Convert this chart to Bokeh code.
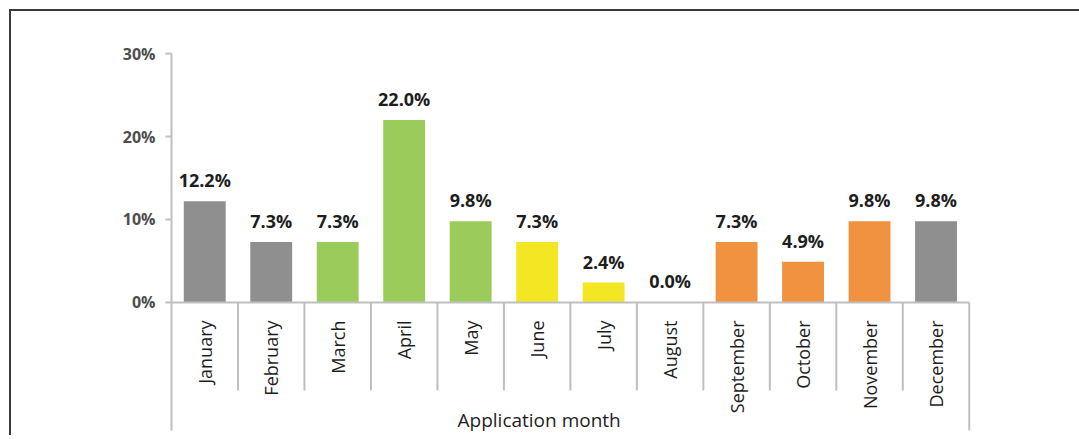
import math
from bokeh.plotting import figure
from bokeh.models import Range1d, FixedTicker, PrintfTickFormatter, ColumnDataSource, Label
from bokeh.core.properties import value
from bokeh.embed import file_html
from bokeh.resources import INLINE

months = ["January", "February", "March", "April", "May", "June", "July",
          "August", "September", "October", "November", "December"]
share = [12.2, 7.3, 7.3, 22.0, 9.8, 7.3, 2.4, 0.0, 7.3, 4.9, 9.8, 9.8]
y_ticks = [0, 10, 20, 30]
x_title = "Application month"

GRAY, GREEN, YELLOW, ORANGE = "#8f8f8f", "#9bcb5b", "#f3e622", "#f19240"
bar_colors = [GRAY, GRAY, GREEN, GREEN, GREEN, YELLOW, YELLOW, YELLOW,
              ORANGE, ORANGE, ORANGE, GRAY]

n = len(months)
xc = [i + 0.5 for i in range(n)]
src = ColumnDataSource(dict(
    x=xc, top=share, color=bar_colors, month=months,
    label=[f"{v:.1f}%" for v in share], zero=[0] * n,
))

FONT = "Open Sans"
AXIS_GRAY = "#bfbfbf"

p = figure(width=1071, height=426, output_backend="svg", toolbar_location=None,
           x_range=Range1d(0, n + 0.5), y_range=Range1d(-16.27, 32.05),
           min_border_left=160, min_border_right=80, min_border_top=25,
           min_border_bottom=0,
           styles={"margin-top": "9px", "margin-left": "9px",
                   "border-top": "2px solid #3a3a3a",
                   "border-left": "2px solid #3a3a3a"})
p.outline_line_color = None
p.xgrid.visible = False
p.ygrid.visible = False
p.xaxis.visible = False

ya = p.yaxis[0]
ya.ticker = FixedTicker(ticks=y_ticks)
ya.formatter = PrintfTickFormatter(format="%d%%")
ya.bounds = (-15.4, y_ticks[-1])
ya.axis_line_color = AXIS_GRAY
ya.axis_line_width = 2
ya.major_tick_line_color = AXIS_GRAY
ya.major_tick_line_width = 2
ya.major_tick_in = 0
ya.major_tick_out = 6
ya.minor_tick_line_color = None
ya.major_label_text_font = FONT
ya.major_label_text_font_size = "16px"
ya.major_label_text_font_style = "bold"
ya.major_label_text_color = "#4d4d4d"
ya.major_label_standoff = 10

# bars
p.vbar(x="x", top="top", bottom=0, width=0.63, fill_color="color",
       line_color=None, source=src)

# category axis line and separators
p.segment(x0=[0], y0=[0], x1=[n], y1=[0], line_color=AXIS_GRAY, line_width=2)
p.segment(x0=list(range(1, n)), y0=[0] * (n - 1), x1=list(range(1, n)),
          y1=[-10.6] * (n - 1), line_color=AXIS_GRAY, line_width=2)
p.segment(x0=[n], y0=[0], x1=[n], y1=[-15.4], line_color=AXIS_GRAY, line_width=2)

# value labels
p.text(x="x", y="top", text="label", source=src, text_align="center",
       text_baseline="alphabetic", y_offset=-21, text_font=value(FONT),
       text_font_size="18px", text_font_style="bold", text_color="#1e1e1e")

# category labels (vertical)
p.text(x="x", y="zero", text="month", source=src, angle=math.pi / 2,
       text_align="right", text_baseline="middle", y_offset=18,
       text_font=value(FONT), text_font_size="18px", text_color="#1e1e1e")

p.add_layout(Label(x=5.53, y=-14.2, text=x_title, text_align="center",
                   text_baseline="alphabetic", text_font=FONT,
                   text_font_size="19px", text_color="#1e1e1e"))

open("out.html", "w").write(file_html(p, INLINE))
